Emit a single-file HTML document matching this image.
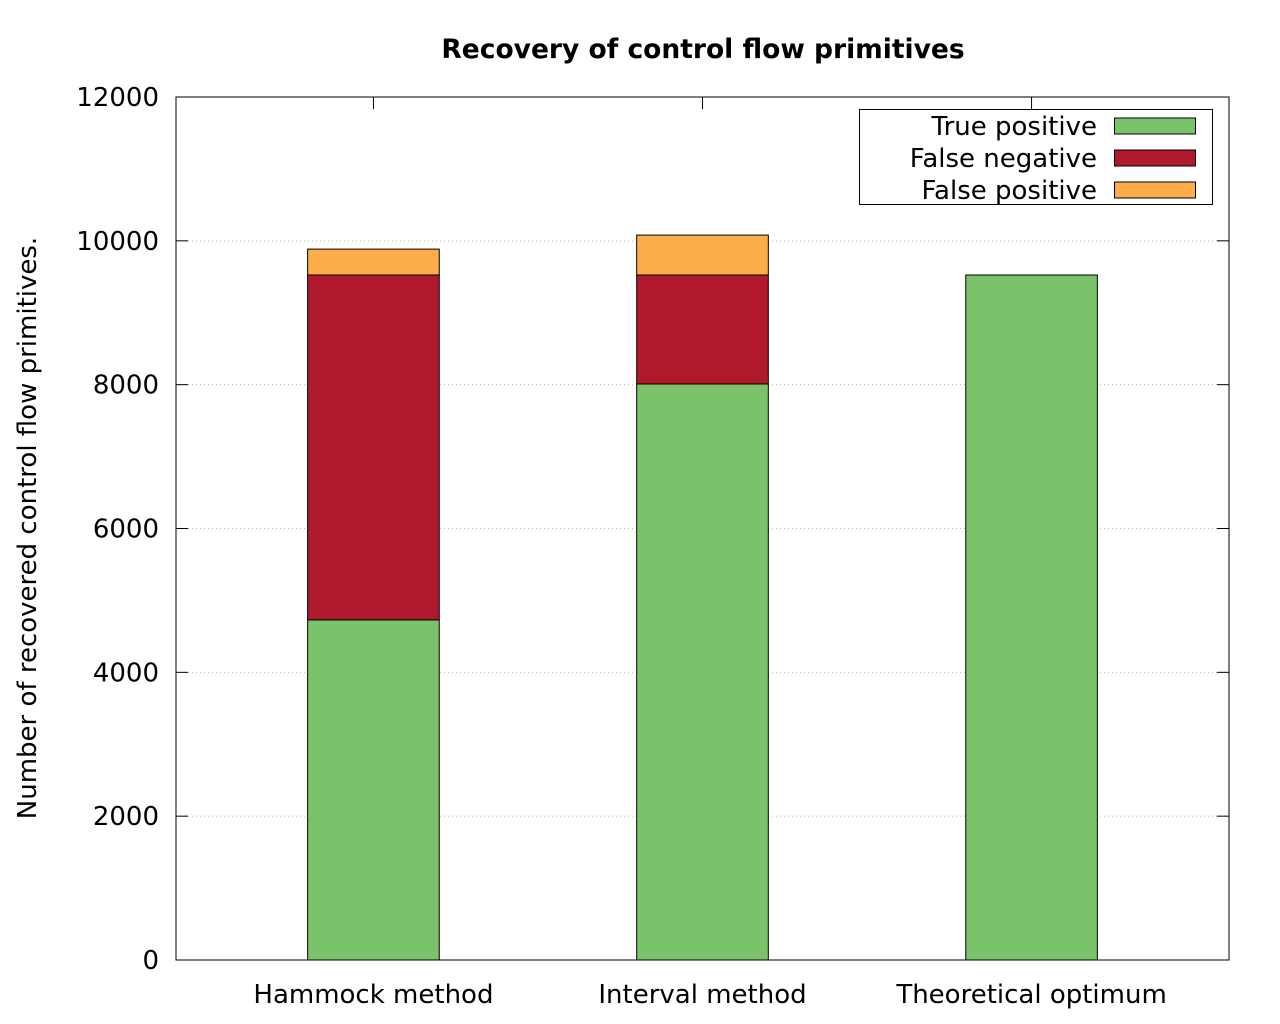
<!DOCTYPE html>
<html><head><meta charset="utf-8"><style>
body{margin:0;background:#fff;}
svg{display:block;font-family:"DejaVu Sans","Liberation Sans",sans-serif;}
</style></head><body>
<svg id="c" width="1280" height="1024"></svg>
<script>
const categories=["Hammock method","Interval method","Theoretical optimum"];
const truePositive=[4730,8010,9525];
const falseNegative=[4795,1515,0];
const falsePositive=[360,555,0];
const yTicks=[0,2000,4000,6000,8000,10000,12000];
const seriesNames=["True positive","False negative","False positive"];
const colors=["#7ac36a","#b0182c","#fdae4b"];
const NS="http://www.w3.org/2000/svg";
const svg=document.getElementById('c');
const L=176,R=1229,T=97,B=960;
const ymax=12000;
function y(v){return B-(v/ymax)*(B-T);}
function x(i){return L+(i+0.6)/3.2*(R-L);}
const bw=0.4/3.2*(R-L);
function el(t,a,p){const e=document.createElementNS(NS,t);for(const k in a)e.setAttribute(k,a[k]);(p||svg).appendChild(e);return e;}
yTicks.forEach(v=>{
 if(v>0&&v<ymax){const g=el('line',{x1:L,x2:R,y1:y(v),y2:y(v),stroke:'#bbb','stroke-dasharray':'1,3','stroke-width':1});
 
 }
 const t1=el('line',{x1:L,x2:L+12,y1:y(v),y2:y(v),stroke:'#000'});
 
 
 const t2=el('line',{x1:R-12,x2:R,y1:y(v),y2:y(v),stroke:'#000'});
 
 
 const lb=el('text',{x:159,y:y(v)+9,'text-anchor':'end','font-size':26});
 lb.textContent=v;
 
 
});
categories.forEach((c,i)=>{
 const cx=x(i);
 let base=0;
 [truePositive[i],falseNegative[i],falsePositive[i]].forEach((v,s)=>{
  if(v<=0)return;
  const r=el('rect',{x:cx-bw/2,y:y(base+v),width:bw,height:y(base)-y(base+v),fill:colors[s],stroke:'#000','stroke-width':1});
  
  
  base+=v;
 });
 const tk=el('line',{x1:cx,x2:cx,y1:T,y2:T+12,stroke:'#000'});
 
 
 const lb=el('text',{x:cx,y:1003,'text-anchor':'middle','font-size':26});
 lb.textContent=c;
 
 
});
const fr=el('rect',{x:L,y:T,width:R-L,height:B-T,fill:'none',stroke:'#000','stroke-width':1});


const lg=el('rect',{x:859.5,y:109.5,width:353,height:95,fill:'#fff',stroke:'#000'});


seriesNames.forEach((n,s)=>{
 const yy=126+s*32;
 const t=el('text',{x:1097,y:yy+9,'text-anchor':'end','font-size':26});
 t.textContent=n;
 
 
 const sw=el('rect',{x:1114.5,y:yy-8,width:81,height:16,fill:colors[s],stroke:'#000'});
 
 
});
const ti=el('text',{x:703,y:58,'text-anchor':'middle','font-size':26.5,'font-weight':'bold'});
ti.textContent="Recovery of control flow primitives";


const yl=el('text',{x:0,y:0,'text-anchor':'middle','font-size':26,transform:'translate(36,528) rotate(-90)'});
yl.textContent="Number of recovered control flow primitives.";


</script>
</body></html>
